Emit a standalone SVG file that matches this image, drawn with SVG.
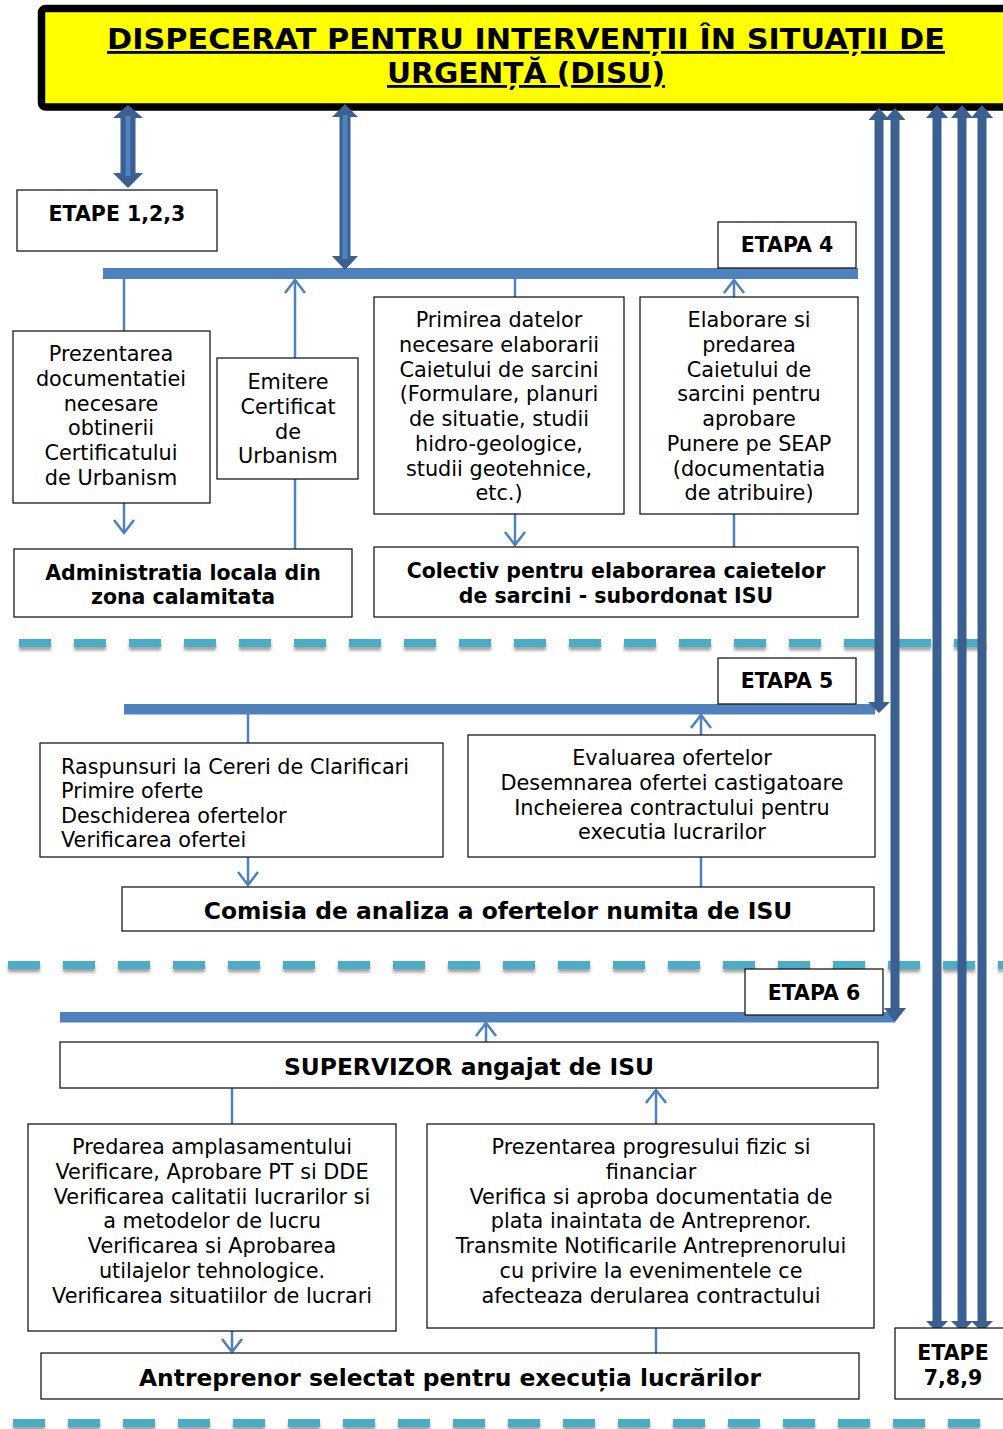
<svg xmlns="http://www.w3.org/2000/svg" width="1003" height="1429" viewBox="0 0 1003 1429">
  <style>
    .t { font-family: "DejaVu Sans", Verdana, sans-serif; font-size: 20.8px; fill: #000; }
    .c { text-anchor: middle; }
    .b { font-weight: bold; font-size: 20.5px; }
    .bl { font-weight: bold; font-size: 23.4px; }
    .title { font-weight: bold; font-size: 28px; text-decoration: underline; }
    .box { fill: #fff; stroke: #1a1a1a; stroke-width: 1.3; }
    .bar { fill: #4F81BD; }
    .ln { stroke: #4F81BD; stroke-width: 2.5; fill: none; }
    .dash { stroke: #4BACC6; stroke-width: 8; stroke-dasharray: 32 23; fill: none; }
    .big { fill: #3B5F8E; }
    .core { stroke: #4F81BD; stroke-width: 5; }
  </style>
  <defs>
    <marker id="vee" viewBox="-16 -12 18 24" refX="0" refY="0" markerWidth="18" markerHeight="24" markerUnits="userSpaceOnUse" orient="auto">
      <path d="M-13,-10 L0,0 L-13,10" fill="none" stroke="#4F81BD" stroke-width="2.5"/>
    </marker>
    <filter id="shadow" filterUnits="userSpaceOnUse" x="0" y="0" width="1003" height="1429">
      <feDropShadow dx="0" dy="3.5" stdDeviation="1.6" flood-color="#555" flood-opacity="0.55"/>
    </filter>
  </defs>

  <!-- section separators -->
  <g id="separators" filter="url(#shadow)">
    <path class="dash" d="M19,643 H1003"/>
    <path class="dash" d="M8,965 H1003"/>
    <path class="dash" d="M13,1423 H1003"/>
  </g>

  <!-- header -->
  <g id="disu">
    <rect x="41.5" y="8.5" width="975" height="98.5" rx="4" fill="#FFFF00" stroke="#000" stroke-width="7.5"/>
    <text class="t c title" x="526" y="49" textLength="838" lengthAdjust="spacingAndGlyphs">DISPECERAT PENTRU INTERVENȚII ÎN SITUAȚII DE</text>
    <text class="t c title" x="526" y="83" textLength="278" lengthAdjust="spacingAndGlyphs">URGENȚĂ (DISU)</text>
  </g>

  <!-- stage bars -->
  <g id="bars">
    <rect class="bar" x="103" y="268" width="755" height="11"/>
    <rect class="bar" x="124" y="704" width="751" height="10.5"/>
    <rect class="bar" x="60" y="1012" width="835" height="10.5"/>
  </g>

  <!-- thin connectors -->
  <g id="connectors">
    <line class="ln" x1="124" y1="279" x2="124" y2="331"/>
    <line class="ln" x1="295" y1="358" x2="295" y2="280" marker-end="url(#vee)"/>
    <line class="ln" x1="515" y1="279" x2="515" y2="297"/>
    <line class="ln" x1="734" y1="297" x2="734" y2="280" marker-end="url(#vee)"/>
    <line class="ln" x1="124" y1="503" x2="124" y2="533" marker-end="url(#vee)"/>
    <line class="ln" x1="295" y1="479" x2="295" y2="549"/>
    <line class="ln" x1="515" y1="514" x2="515" y2="545" marker-end="url(#vee)"/>
    <line class="ln" x1="734" y1="514" x2="734" y2="547"/>
    <line class="ln" x1="248" y1="714" x2="248" y2="743"/>
    <line class="ln" x1="701" y1="735" x2="701" y2="715" marker-end="url(#vee)"/>
    <line class="ln" x1="248" y1="857" x2="248" y2="885" marker-end="url(#vee)"/>
    <line class="ln" x1="701" y1="857" x2="701" y2="887"/>
    <line class="ln" x1="486" y1="1042" x2="486" y2="1023" marker-end="url(#vee)"/>
    <line class="ln" x1="232" y1="1088" x2="232" y2="1124"/>
    <line class="ln" x1="656" y1="1124" x2="656" y2="1090" marker-end="url(#vee)"/>
    <line class="ln" x1="232" y1="1331" x2="232" y2="1352" marker-end="url(#vee)"/>
    <line class="ln" x1="656" y1="1328" x2="656" y2="1353"/>
  </g>

  <!-- block arrows from the dispatch centre -->
  <g id="block-arrows">
    <path class="big" d="M128,105 L143,118 L135.5,118 L135.5,173 L143,173 L128,188 L113,173 L120.5,173 L120.5,118 L113,118 Z"/>
    <line class="core" x1="128" y1="116" x2="128" y2="176"/>
    <path class="big" d="M345,104 L358,117 L350.5,117 L350.5,256 L358,256 L345,270 L332,256 L339.5,256 L339.5,117 L332,117 Z"/>
    <line class="core" x1="345" y1="115" x2="345" y2="259" stroke-width="4"/>
    <path class="big" d="M879,108 L889.5,120 L883.5,120 L883.5,702 L890,702 L879,713 L868,702 L874.5,702 L874.5,120 L868.5,120 Z"/>
    <path class="big" d="M895,108 L905.5,120 L899.5,120 L899.5,1008 L906,1008 L895,1022 L884,1008 L890.5,1008 L890.5,120 L884.5,120 Z"/>
    <path class="big" d="M937,105 L948,118 L941.5,118 L941.5,1321 L948,1321 L937,1332 L926,1321 L932.5,1321 L932.5,118 L926,118 Z"/>
    <path class="big" d="M962,105 L973,118 L966.5,118 L966.5,1321 L973,1321 L962,1332 L951,1321 L957.5,1321 L957.5,118 L951,118 Z"/>
    <path class="big" d="M982,105 L993,118 L986.5,118 L986.5,1321 L993,1321 L982,1332 L971,1321 L977.5,1321 L977.5,118 L971,118 Z"/>
  </g>

  <g id="etape-1-2-3">
    <rect class="box" x="17" y="190" width="200" height="61"/>
    <text class="t c b" x="117" y="221">ETAPE 1,2,3</text>
  </g>

  <g id="etapa-4">
    <rect class="box" x="718" y="222" width="138" height="46"/>
    <text class="t c b" x="787" y="252">ETAPA 4</text>
  </g>

  <g id="prezentarea-documentatiei">
    <rect class="box" x="13" y="331" width="197" height="172"/>
    <text class="t c" x="111" y="361">Prezentarea</text>
    <text class="t c" x="111" y="386">documentatiei</text>
    <text class="t c" x="111" y="411">necesare</text>
    <text class="t c" x="111" y="435">obtinerii</text>
    <text class="t c" x="111" y="460">Certificatului</text>
    <text class="t c" x="111" y="485">de Urbanism</text>
  </g>

  <g id="emitere-certificat">
    <rect class="box" x="217" y="358" width="141" height="121"/>
    <text class="t c" x="288" y="389">Emitere</text>
    <text class="t c" x="288" y="414">Certificat</text>
    <text class="t c" x="288" y="439">de</text>
    <text class="t c" x="288" y="463">Urbanism</text>
  </g>

  <g id="primirea-datelor">
    <rect class="box" x="374" y="297" width="250" height="217"/>
    <text class="t c" x="499" y="327">Primirea datelor</text>
    <text class="t c" x="499" y="352">necesare elaborarii</text>
    <text class="t c" x="499" y="377">Caietului de sarcini</text>
    <text class="t c" x="499" y="401">(Formulare, planuri</text>
    <text class="t c" x="499" y="426">de situatie, studii</text>
    <text class="t c" x="499" y="451">hidro-geologice,</text>
    <text class="t c" x="499" y="476">studii geotehnice,</text>
    <text class="t c" x="499" y="500">etc.)</text>
  </g>

  <g id="elaborare-caiet">
    <rect class="box" x="640" y="297" width="218" height="217"/>
    <text class="t c" x="749" y="327">Elaborare si</text>
    <text class="t c" x="749" y="352">predarea</text>
    <text class="t c" x="749" y="377">Caietului de</text>
    <text class="t c" x="749" y="401">sarcini pentru</text>
    <text class="t c" x="749" y="426">aprobare</text>
    <text class="t c" x="749" y="451">Punere pe SEAP</text>
    <text class="t c" x="749" y="476">(documentatia</text>
    <text class="t c" x="749" y="500">de atribuire)</text>
  </g>

  <g id="administratia-locala">
    <rect class="box" x="14" y="549" width="338" height="68"/>
    <text class="t c b" x="183" y="580">Administratia locala din</text>
    <text class="t c b" x="183" y="604">zona calamitata</text>
  </g>

  <g id="colectiv-caiete">
    <rect class="box" x="374" y="547" width="484" height="70"/>
    <text class="t c b" x="616" y="578">Colectiv pentru elaborarea caietelor</text>
    <text class="t c b" x="616" y="603">de sarcini - subordonat ISU</text>
  </g>

  <g id="etapa-5">
    <rect class="box" x="718" y="658" width="138" height="46"/>
    <text class="t c b" x="787" y="688">ETAPA 5</text>
  </g>

  <g id="raspunsuri-clarificari">
    <rect class="box" x="40" y="743" width="403" height="114"/>
    <text class="t" x="61" y="774">Raspunsuri la Cereri de Clarificari</text>
    <text class="t" x="61" y="798">Primire oferte</text>
    <text class="t" x="61" y="823">Deschiderea ofertelor</text>
    <text class="t" x="61" y="847">Verificarea ofertei</text>
  </g>

  <g id="evaluarea-ofertelor">
    <rect class="box" x="468" y="735" width="407" height="122"/>
    <text class="t c" x="672" y="765">Evaluarea ofertelor</text>
    <text class="t c" x="672" y="790">Desemnarea ofertei castigatoare</text>
    <text class="t c" x="672" y="815">Incheierea contractului pentru</text>
    <text class="t c" x="672" y="839">executia lucrarilor</text>
  </g>

  <g id="comisia-analiza">
    <rect class="box" x="122" y="887" width="752" height="44"/>
    <text class="t c bl" x="498" y="919">Comisia de analiza a ofertelor numita de ISU</text>
  </g>

  <g id="etapa-6">
    <rect class="box" x="745" y="969" width="138" height="46"/>
    <text class="t c b" x="814" y="1000">ETAPA 6</text>
  </g>

  <g id="supervizor">
    <rect class="box" x="60" y="1042" width="818" height="46"/>
    <text class="t c bl" x="469" y="1075">SUPERVIZOR angajat de ISU</text>
  </g>

  <g id="predarea-amplasamentului">
    <rect class="box" x="28" y="1124" width="368" height="207"/>
    <text class="t c" x="212" y="1154">Predarea amplasamentului</text>
    <text class="t c" x="212" y="1179">Verificare, Aprobare PT si DDE</text>
    <text class="t c" x="212" y="1204">Verificarea calitatii lucrarilor si</text>
    <text class="t c" x="212" y="1228">a metodelor de lucru</text>
    <text class="t c" x="212" y="1253">Verificarea si Aprobarea</text>
    <text class="t c" x="212" y="1278">utilajelor tehnologice.</text>
    <text class="t c" x="212" y="1303">Verificarea situatiilor de lucrari</text>
  </g>

  <g id="progres-fizic">
    <rect class="box" x="427" y="1124" width="447" height="204"/>
    <text class="t c" x="651" y="1154">Prezentarea progresului fizic si</text>
    <text class="t c" x="651" y="1179">financiar</text>
    <text class="t c" x="651" y="1204">Verifica si aproba documentatia de</text>
    <text class="t c" x="651" y="1228">plata inaintata de Antreprenor.</text>
    <text class="t c" x="651" y="1253">Transmite Notificarile Antreprenorului</text>
    <text class="t c" x="651" y="1278">cu privire la evenimentele ce</text>
    <text class="t c" x="651" y="1303">afecteaza derularea contractului</text>
  </g>

  <g id="antreprenor">
    <rect class="box" x="41" y="1353" width="818" height="46"/>
    <text class="t c bl" x="450" y="1386">Antreprenor selectat pentru execuția lucrărilor</text>
  </g>

  <g id="etape-7-8-9">
    <rect class="box" x="895" y="1328" width="120" height="71"/>
    <text class="t c b" x="953" y="1360">ETAPE</text>
    <text class="t c b" x="953" y="1385">7,8,9</text>
  </g>
</svg>
